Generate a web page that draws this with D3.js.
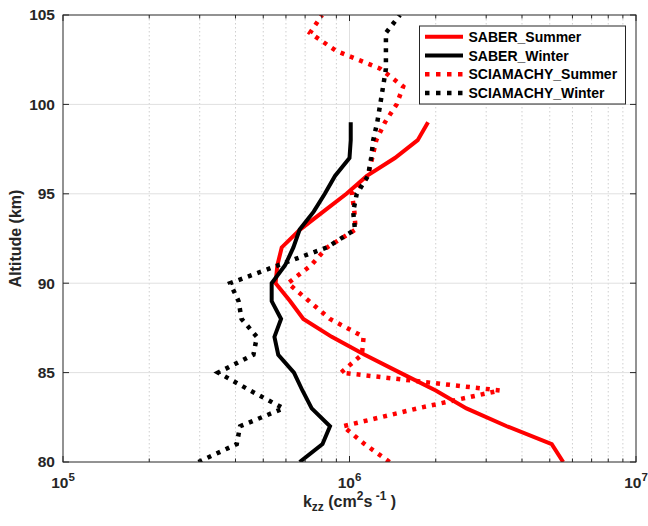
<!DOCTYPE html>
<html>
<head>
<meta charset="utf-8">
<script src="https://cdn.jsdelivr.net/npm/d3@7"></script>
<style>
  html, body { margin: 0; padding: 0; background: #fff; }
  svg { display: block; font-family: "Liberation Sans", Arial, Helvetica, sans-serif; }
</style>
</head>
<body>
<svg id="chart" width="648" height="526"></svg>
<script>
// ---------- data ----------
const altSaber = [80,81,82,83,84,85,86,87,88,89,90,91,92,93,94,95,96,97,98,99];
const saberSummer = [5.57e6,5.08e6,3.54e6,2.56e6,2.0e6,1.50e6,1.13e6,8.67e5,6.9e5,6.2e5,
                     5.52e5,5.6e5,5.8e5,6.72e5,8.1e5,9.76e5,1.15e6,1.44e6,1.73e6,1.88e6];
const saberWinter = [6.7e5,8.05e5,8.55e5,7.38e5,6.85e5,6.4e5,5.64e5,5.47e5,5.77e5,5.35e5,
                     5.35e5,5.96e5,6.37e5,6.7e5,7.5e5,8.2e5,8.9e5,1.0e6,1.01e6,1.01e6];
const altScia = [80,81,82,83,84,85,86,87,88,89,90,91,92,93,94,95,96,97,98,99,100,101,102,103,104,105];
const sciaSummer = [1.38e6,1.13e6,9.49e5,1.73e6,3.35e6,9.34e5,1.105e6,1.12e6,8.55e5,7.22e5,
                    6.1e5,7.34e5,8.35e5,1.05e6,1.04e6,1.02e6,1.16e6,1.20e6,1.24e6,1.33e6,
                    1.46e6,1.54e6,1.28e6,8.97e5,7.28e5,8.02e5];
const sciaWinter = [2.97e5,4.04e5,4.15e5,5.88e5,4.5e5,3.48e5,4.62e5,4.75e5,4.2e5,4.1e5,
                    3.83e5,5.63e5,8.34e5,1.045e6,1.03e6,1.06e6,1.16e6,1.19e6,1.21e6,1.25e6,
                    1.28e6,1.31e6,1.34e6,1.34e6,1.34e6,1.5e6];
const seriesNames = ["SABER_Summer","SABER_Winter","SCIAMACHY_Summer","SCIAMACHY_Winter"];
const xTickExps = [5,6,7];
const yTicks = [80,85,90,95,100,105];
const xDomain = [1e5,1e7];
const yDomain = [80,105];

// ---------- layout ----------
const svg = d3.select("#chart");
const m = {left:63, top:15, right:12, bottom:64};
const W = 648 - m.left - m.right, H = 526 - m.top - m.bottom;
const x = d3.scaleLog().domain(xDomain).range([0, W]);
const y = d3.scaleLinear().domain(yDomain).range([H, 0]);
const g = svg.append("g").attr("transform", `translate(${m.left},${m.top})`);
const axisColor = "#262626";

// minor values
const minorX = [];
[1e5,1e6].forEach(d => { for (let k=2;k<=9;k++) minorX.push(d*k); });

// grid
g.append("g").selectAll("line").data(minorX).join("line")
  .attr("x1", d=>x(d)).attr("x2", d=>x(d)).attr("y1",0).attr("y2",H)
  .attr("stroke","#cfcfcf").attr("stroke-width",1).attr("stroke-dasharray","1.5,2.5");
g.append("g").selectAll("line").data([1e6]).join("line")
  .attr("x1", d=>x(d)).attr("x2", d=>x(d)).attr("y1",0).attr("y2",H)
  .attr("stroke","#e0e0e0").attr("stroke-width",1);
g.append("g").selectAll("line").data(yTicks.slice(1,-1)).join("line")
  .attr("x1",0).attr("x2",W).attr("y1",d=>y(d)).attr("y2",d=>y(d))
  .attr("stroke","#e0e0e0").attr("stroke-width",1);

// series
const line = d3.line().x(d=>x(d[0])).y(d=>y(d[1]));
const series = [
  {vals:saberSummer, alts:altSaber, color:"#ff0000", dash:null},
  {vals:saberWinter, alts:altSaber, color:"#000000", dash:null},
  {vals:sciaSummer,  alts:altScia,  color:"#ff0000", dash:"4,6"},
  {vals:sciaWinter,  alts:altScia,  color:"#000000", dash:"4,6"}
];
svg.append("defs").append("clipPath").attr("id","clip")
  .append("rect").attr("x",0).attr("y",0).attr("width",W).attr("height",H);
const lg = g.append("g").attr("clip-path","url(#clip)");
series.forEach(s => {
  const pts = s.vals.map((v,i)=>[v, s.alts[i]]);
  lg.append("path").datum(pts).attr("d", line)
    .attr("fill","none").attr("stroke", s.color)
    .attr("stroke-width", s.dash ? 4.5 : 4)
    .attr("stroke-linejoin","miter")
    .attr("stroke-dasharray", s.dash);
});

// axes box
g.append("rect").attr("x",0).attr("y",0).attr("width",W).attr("height",H)
  .attr("fill","none").attr("stroke",axisColor).attr("stroke-width",1);

// ticks (inside)
const majX = xTickExps.map(e=>Math.pow(10,e));
[[0,1],[H,-1]].forEach(([yy,dir]) => {
  g.append("g").selectAll("line").data(majX).join("line")
    .attr("x1",d=>x(d)).attr("x2",d=>x(d)).attr("y1",yy).attr("y2",yy + dir*6)
    .attr("stroke",axisColor);
  g.append("g").selectAll("line").data(minorX).join("line")
    .attr("x1",d=>x(d)).attr("x2",d=>x(d)).attr("y1",yy).attr("y2",yy + dir*3.5)
    .attr("stroke",axisColor);
});
[[0,1],[W,-1]].forEach(([xx,dir]) => {
  g.append("g").selectAll("line").data(yTicks).join("line")
    .attr("y1",d=>y(d)).attr("y2",d=>y(d)).attr("x1",xx).attr("x2",xx + dir*6)
    .attr("stroke",axisColor);
});

// y tick labels via axis
const yAxis = d3.axisLeft(y).tickValues(yTicks).tickSize(0).tickPadding(8);
const ya = g.append("g").call(yAxis);
ya.select(".domain").remove();
ya.selectAll("text").attr("font-size",15.5).attr("font-weight","bold").attr("fill",axisColor)
  .attr("font-family","Liberation Sans, Arial, sans-serif");

// x tick labels 10^n
const xl = g.append("g").selectAll("text").data(xTickExps).join("text")
  .attr("x", d=>x(Math.pow(10,d))).attr("y", H+26)
  .attr("text-anchor","middle").attr("font-size",15.5).attr("font-weight","bold")
  .attr("fill",axisColor);
xl.append("tspan").text("10");
xl.append("tspan").attr("dy",-7).attr("font-size",11.5).text(d=>d);

// axis labels
const xt = g.append("text").attr("x", W/2).attr("y", H+45)
  .attr("text-anchor","middle").attr("font-size",16).attr("font-weight","bold").attr("fill",axisColor);
xt.append("tspan").text("k");
xt.append("tspan").attr("dy",4).attr("font-size",12).text("zz");
xt.append("tspan").attr("dy",-4).text(" (cm");
xt.append("tspan").attr("dy",-7).attr("font-size",12).text("2");
xt.append("tspan").attr("dy",7).text("s");
xt.append("tspan").attr("dy",-7).attr("font-size",12).text(" -1");
xt.append("tspan").attr("dy",7).text(" )");

g.append("text").attr("transform",`translate(${-42},${H/2}) rotate(-90)`)
  .attr("text-anchor","middle").attr("font-size",16).attr("font-weight","bold")
  .attr("fill",axisColor).text("Altitude (km)");

// legend
const leg = svg.append("g").attr("transform","translate(419.5,26)");
leg.append("rect").attr("width",206).attr("height",78)
  .attr("fill","#fff").attr("stroke",axisColor).attr("stroke-width",1);
series.forEach((s,i) => {
  const yy = 10.7 + i*18.8;
  leg.append("line").attr("x1",5.5).attr("x2",43.5).attr("y1",yy).attr("y2",yy)
    .attr("stroke",s.color).attr("stroke-width", s.dash ? 4.5 : 4)
    .attr("stroke-dasharray", s.dash ? "4.5,6.5" : null);
  leg.append("text").attr("x",49).attr("y",yy+5).attr("font-size",14)
    .attr("font-weight","bold").attr("fill","#000").text(seriesNames[i]);
});
</script>
</body>
</html>
